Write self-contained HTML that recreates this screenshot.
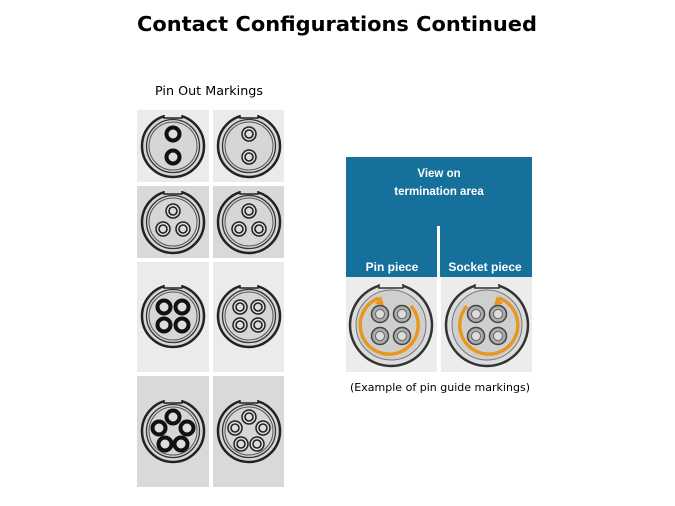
<!DOCTYPE html>
<html><head><meta charset="utf-8"><style>
html,body{margin:0;padding:0;background:#fff;width:675px;height:506px;overflow:hidden}
</style></head><body>
<svg width="675" height="506" viewBox="0 0 675 506" xmlns="http://www.w3.org/2000/svg">
<defs>
  <g id="shellL">
    <circle r="31" fill="#d6d6d6" stroke="#222" stroke-width="2.5"/>
    <circle r="26.5" fill="none" stroke="#333" stroke-width="1.3"/>
    <circle r="24" fill="none" stroke="#555" stroke-width="1"/>
    <rect x="-9" y="-33" width="18" height="5" fill="#ebebeb"/>
    <path d="M-9,-31 L-9,-28 L9,-28 L9,-31" fill="none" stroke="#222" stroke-width="1.5"/>
  </g>
  <g id="shellD">
    <circle r="31" fill="#d6d6d6" stroke="#222" stroke-width="2.5"/>
    <circle r="26.5" fill="none" stroke="#333" stroke-width="1.3"/>
    <circle r="24" fill="none" stroke="#555" stroke-width="1"/>
    <rect x="-9" y="-33" width="18" height="5" fill="#d9d9d9"/>
    <path d="M-9,-31 L-9,-28 L9,-28 L9,-31" fill="none" stroke="#222" stroke-width="1.5"/>
  </g>
  <g id="pinA"><circle r="6.5" fill="#ddd" stroke="#111" stroke-width="4"/></g>
  <g id="pinB"><circle r="7" fill="#ddd" stroke="#222" stroke-width="1.5"/><circle r="4" fill="none" stroke="#222" stroke-width="1.6"/></g>
  <g id="big">
    <circle r="41" fill="#dcdcdc" stroke="#333" stroke-width="2.5"/>
    <circle r="35" fill="#cfcfcf" stroke="#777" stroke-width="1"/>
    <rect x="-12" y="-43" width="24" height="6" fill="#ececec"/>
    <path d="M-12,-41 L-12,-37 L12,-37 L12,-41" fill="none" stroke="#333" stroke-width="1.5"/>
  </g>
  <g id="bp"><circle r="8.5" fill="#aaa" stroke="#444" stroke-width="1.5"/><circle r="4.5" fill="#ddd" stroke="#666" stroke-width="1"/></g>
</defs>

<text x="337" y="31" text-anchor="middle" font-family="DejaVu Sans, sans-serif" font-weight="bold" font-size="20" textLength="400" lengthAdjust="spacingAndGlyphs">Contact Configurations Continued</text>
<text x="155" y="95" font-family="DejaVu Sans, sans-serif" font-size="12.5" textLength="108" lengthAdjust="spacingAndGlyphs">Pin Out Markings</text>

<rect x="137" y="110" width="72" height="72" fill="#ebebeb"/>
<rect x="213" y="110" width="71" height="72" fill="#ebebeb"/>
<rect x="137" y="186" width="72" height="72" fill="#d9d9d9"/>
<rect x="213" y="186" width="71" height="72" fill="#d9d9d9"/>
<rect x="137" y="262" width="72" height="110" fill="#ebebeb"/>
<rect x="213" y="262" width="71" height="110" fill="#ebebeb"/>
<rect x="137" y="376" width="72" height="111" fill="#d9d9d9"/>
<rect x="213" y="376" width="71" height="111" fill="#d9d9d9"/>

<g transform="translate(173,146)"><use href="#shellL"/><use href="#pinA" y="-12"/><use href="#pinA" y="11"/></g>
<g transform="translate(249,146)"><use href="#shellL"/><use href="#pinB" y="-12"/><use href="#pinB" y="11"/></g>
<g transform="translate(173,222)"><use href="#shellD"/><use href="#pinB" y="-11"/><use href="#pinB" x="-10" y="7"/><use href="#pinB" x="10" y="7"/></g>
<g transform="translate(249,222)"><use href="#shellD"/><use href="#pinB" y="-11"/><use href="#pinB" x="-10" y="7"/><use href="#pinB" x="10" y="7"/></g>
<g transform="translate(173,316)"><use href="#shellL"/><use href="#pinA" x="-9" y="-9"/><use href="#pinA" x="9" y="-9"/><use href="#pinA" x="-9" y="9"/><use href="#pinA" x="9" y="9"/></g>
<g transform="translate(249,316)"><use href="#shellL"/><use href="#pinB" x="-9" y="-9"/><use href="#pinB" x="9" y="-9"/><use href="#pinB" x="-9" y="9"/><use href="#pinB" x="9" y="9"/></g>
<g transform="translate(173,431)"><use href="#shellD"/><use href="#pinA" y="-14"/><use href="#pinA" x="-14" y="-3"/><use href="#pinA" x="14" y="-3"/><use href="#pinA" x="-8" y="13"/><use href="#pinA" x="8" y="13"/></g>
<g transform="translate(249,431)"><use href="#shellD"/><use href="#pinB" y="-14"/><use href="#pinB" x="-14" y="-3"/><use href="#pinB" x="14" y="-3"/><use href="#pinB" x="-8" y="13"/><use href="#pinB" x="8" y="13"/></g>

<rect x="346" y="157" width="186" height="120" fill="#15719c"/>
<rect x="437" y="226" width="3" height="51" fill="#fff"/>
<text x="439" y="177" text-anchor="middle" font-family="Liberation Sans, sans-serif" font-weight="bold" font-size="11.5" fill="#fff">View on</text>
<text x="439" y="195" text-anchor="middle" font-family="Liberation Sans, sans-serif" font-weight="bold" font-size="11.5" fill="#fff">termination area</text>
<text x="392" y="271" text-anchor="middle" font-family="Liberation Sans, sans-serif" font-weight="bold" font-size="12" fill="#fff">Pin piece</text>
<text x="485" y="271" text-anchor="middle" font-family="Liberation Sans, sans-serif" font-weight="bold" font-size="12" fill="#fff">Socket piece</text>
<rect x="346" y="277" width="91" height="95" fill="#ececec"/>
<rect x="441" y="277" width="91" height="95" fill="#ececec"/>

<g transform="translate(391,325)"><use href="#big"/>
  <path d="M-12,-27 A29,29 0 1 0 20,-19" fill="none" stroke="#e8961e" stroke-width="3.5"/>
  <path d="M-16,-21 L-10,-29 L-7,-20 Z" fill="#e8961e"/>
  <use href="#bp" x="-11" y="-11"/><use href="#bp" x="11" y="-11"/><use href="#bp" x="-11" y="11"/><use href="#bp" x="11" y="11"/></g>
<g transform="translate(487,325)"><use href="#big"/>
  <path d="M12,-27 A29,29 0 1 1 -20,-19" fill="none" stroke="#e8961e" stroke-width="3.5"/>
  <path d="M16,-21 L10,-29 L7,-20 Z" fill="#e8961e"/>
  <use href="#bp" x="-11" y="-11"/><use href="#bp" x="11" y="-11"/><use href="#bp" x="-11" y="11"/><use href="#bp" x="11" y="11"/></g>

<text x="440" y="391" text-anchor="middle" font-family="DejaVu Sans, sans-serif" font-size="10.5" textLength="180" lengthAdjust="spacingAndGlyphs">(Example of pin guide markings)</text>
</svg>
</body></html>
